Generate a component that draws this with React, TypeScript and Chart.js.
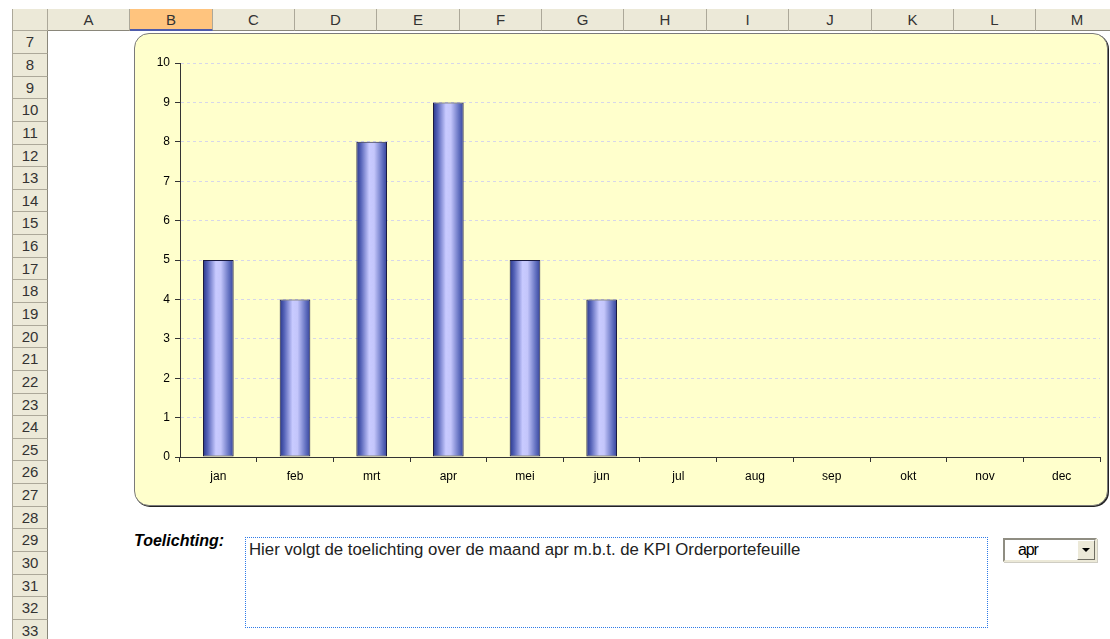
import React, { useEffect, useRef } from "react";
import { Chart, registerables } from "chart.js";

Chart.register(...registerables);

const months = ["jan", "feb", "mrt", "apr", "mei", "jun", "jul", "aug", "sep", "okt", "nov", "dec"];
const values: (number | null)[] = [5, 4, 8, 9, 5, 4, null, null, null, null, null, null];
const yTicks = [0, 1, 2, 3, 4, 5, 6, 7, 8, 9, 10];
const columnLetters = ["A", "B", "C", "D", "E", "F", "G", "H", "I", "J", "K", "L", "M"];
const rowNumbers = [7, 8, 9, 10, 11, 12, 13, 14, 15, 16, 17, 18, 19, 20, 21, 22, 23, 24, 25, 26, 27, 28, 29, 30, 31, 32, 33];
const selectedColumn = "B";
const selectedMonth = "apr";
const noteLabel = "Toelichting:";
const noteText = `Hier volgt de toelichting over de maand ${selectedMonth} m.b.t. de KPI Orderportefeuille`;

const FONT = "'Liberation Sans', Arial, sans-serif";

function ChartBox() {
  const ref = useRef<HTMLCanvasElement | null>(null);
  useEffect(() => {
    if (!ref.current) return;
    const chart = new Chart(ref.current, {
      type: "bar",
      data: {
        labels: months,
        datasets: [
          {
            data: values,
            borderColor: "#1a1a40",
            borderWidth: 1,
            borderSkipped: false,
            barPercentage: 0.4,
            categoryPercentage: 1,
            backgroundColor: (ctx: any) => {
              const c = ctx.chart;
              const area = c.chartArea;
              const xs = c.scales && c.scales.x;
              if (!area || !xs) return "#9999ee";
              const cx = xs.getPixelForValue(ctx.dataIndex);
              const w = ((area.right - area.left) / months.length) * 0.4;
              const g = c.ctx.createLinearGradient(cx - w / 2, 0, cx + w / 2, 0);
              g.addColorStop(0, "#28368a");
              g.addColorStop(0.15, "#5563b8");
              g.addColorStop(0.42, "#c8caff");
              g.addColorStop(0.58, "#c4c6fb");
              g.addColorStop(0.85, "#6270c0");
              g.addColorStop(1, "#34429a");
              return g;
            },
          },
        ],
      },
      options: {
        responsive: false,
        animation: false,
        events: [],
        layout: { padding: { left: 0, top: 30, right: 8, bottom: 0 } },
        plugins: { legend: { display: false }, tooltip: { enabled: false } },
        scales: {
          x: {
            afterFit: (s: any) => {
              s.height = 49;
            },
            grid: {
              display: true,
              offset: true,
              drawOnChartArea: false,
              drawTicks: true,
              tickLength: 5,
              tickColor: "#333333",
              lineWidth: 1,
              color: "#333333",
            },
            border: { display: true, color: "#333333", width: 1 },
            ticks: {
              color: "#000000",
              font: { family: FONT, size: 12 },
              padding: 7,
              maxRotation: 0,
              autoSkip: false,
            },
          },
          y: {
            min: 0,
            max: 10,
            afterFit: (s: any) => {
              s.width = 46;
            },
            afterBuildTicks: (s: any) => {
              s.ticks = yTicks.map((v) => ({ value: v }));
            },
            grid: {
              display: true,
              color: "#d6d6ea",
              lineWidth: 1,
              drawTicks: true,
              tickLength: 5,
              tickColor: "#333333",
              tickBorderDash: [],
            },
            border: { display: true, color: "#333333", width: 1, dash: [3, 3] },
            ticks: {
              color: "#000000",
              font: { family: FONT, size: 12 },
              padding: 5,
            },
          },
        },
      },
    });
    return () => chart.destroy();
  }, []);
  return (
    <canvas
      ref={ref}
      width={974}
      height={473}
      style={{ position: "absolute", left: 134, top: 33, width: 974, height: 473 }}
    />
  );
}

const headerBg = "#ECE9D8";
const headerLine = "#ACA899";
const colLeft = 48;
const colW = 82.35;
const rowTop = 31.3;
const rowH = 22.64;

export default function App() {
  return (
    <div
      style={{
        position: "absolute",
        left: 0,
        top: 0,
        width: 1110,
        height: 639,
        overflow: "hidden",
        background: "#ffffff",
        fontFamily: FONT,
      }}
    >
      {/* corner cell */}
      <div
        style={{
          position: "absolute",
          left: 12,
          top: 9,
          width: colLeft - 12,
          height: rowTop - 9,
          background: headerBg,
          boxSizing: "border-box",
          borderRight: `1px solid ${headerLine}`,
          borderBottom: `1px solid ${headerLine}`,
          borderLeft: `1px solid ${headerLine}`,
        }}
      />
      {/* column headers */}
      {columnLetters.map((c, i) => {
        const l = Math.round(colLeft + i * colW);
        const r = Math.round(colLeft + (i + 1) * colW);
        const sel = c === selectedColumn;
        return (
          <div
            key={c}
            style={{
              position: "absolute",
              left: l,
              top: 9,
              width: r - l,
              height: Math.round(rowTop) - 9,
              background: sel ? "#FFC47E" : headerBg,
              boxSizing: "border-box",
              borderRight: `1px solid ${headerLine}`,
              borderBottom: sel ? "2px solid #4E5BAA" : `1px solid #8a877a`,
              color: "#333",
              fontSize: 15,
              lineHeight: "21px",
              textAlign: "center",
            }}
          >
            {c}
          </div>
        );
      })}
      {/* row headers */}
      {rowNumbers.map((n, i) => {
        const t = Math.round(rowTop + i * rowH);
        const b = Math.round(rowTop + (i + 1) * rowH);
        return (
          <div
            key={n}
            style={{
              position: "absolute",
              left: 12,
              top: t,
              width: colLeft - 12,
              height: b - t,
              background: headerBg,
              boxSizing: "border-box",
              borderLeft: `1px solid ${headerLine}`,
              borderRight: `1px solid #8a877a`,
              borderBottom: `1px solid ${headerLine}`,
              color: "#333",
              fontSize: 15,
              lineHeight: `${b - t - 1}px`,
              textAlign: "center",
            }}
          >
            {n}
          </div>
        );
      })}
      {/* chart box */}
      <div
        style={{
          position: "absolute",
          left: 134,
          top: 33,
          width: 974,
          height: 473,
          boxSizing: "border-box",
          background: "#FFFFCC",
          border: "1px solid #7a7a7a",
          borderRadius: 15,
          boxShadow: "1px 1px 0 #222",
        }}
      />
      <ChartBox />
      {/* note label */}
      <div
        style={{
          position: "absolute",
          left: 134,
          top: 531,
          fontSize: 16,
          lineHeight: "19px",
          fontWeight: "bold",
          fontStyle: "italic",
          color: "#000",
        }}
      >
        {noteLabel}
      </div>
      {/* note box */}
      <div
        style={{
          position: "absolute",
          left: 245,
          top: 537,
          width: 743,
          height: 91,
          boxSizing: "border-box",
          border: "1px dotted #2f7ae8",
          padding: "2px 3px",
          fontSize: 16.8,
          color: "#222",
          lineHeight: "19px",
          whiteSpace: "nowrap",
        }}
      >
        {noteText}
      </div>
      {/* dropdown */}
      <div
        style={{
          position: "absolute",
          left: 1003,
          top: 538,
          width: 94,
          height: 24,
          boxSizing: "border-box",
          background: "#ffffff",
          borderTop: "2px solid #8f8d82",
          borderLeft: "2px solid #8f8d82",
          borderBottom: "2px solid #ECE9D8",
          borderRight: "2px solid #ECE9D8",
          boxShadow: "1px 1px 0 #cfcdc3",
        }}
      >
        <div
          style={{
            position: "absolute",
            left: 13,
            top: 1,
            fontSize: 16,
            letterSpacing: -1.2,
            color: "#000",
            lineHeight: "18px",
          }}
        >
          {selectedMonth}
        </div>
        <div
          style={{
            position: "absolute",
            right: 0,
            top: 0,
            width: 18,
            height: 20,
            boxSizing: "border-box",
            background: headerBg,
            borderTop: "1px solid #ffffff",
            borderLeft: "1px solid #ffffff",
            borderRight: "1px solid #716f64",
            borderBottom: "1px solid #716f64",
          }}
        >
          <div
            style={{
              position: "absolute",
              left: 4,
              top: 7,
              width: 0,
              height: 0,
              borderLeft: "4px solid transparent",
              borderRight: "4px solid transparent",
              borderTop: "4px solid #000",
            }}
          />
        </div>
      </div>
    </div>
  );
}
